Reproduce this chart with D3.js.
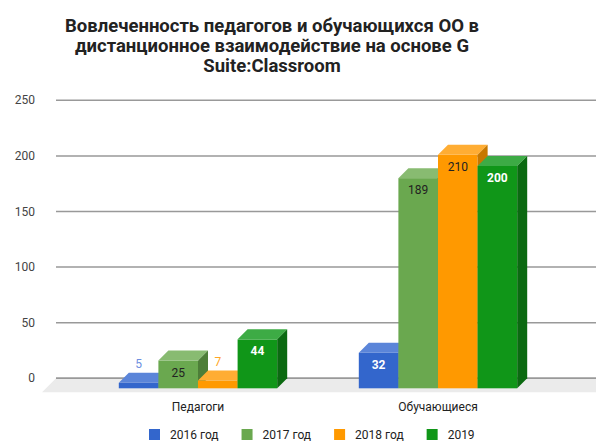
<!DOCTYPE html>
<html>
<head>
<meta charset="utf-8">
<script src="https://cdn.jsdelivr.net/npm/d3@7"></script>
<style>
  body { margin: 0; background: #fff; }
  svg { font-family: Roboto, "Noto Sans", sans-serif; }
</style>
</head>
<body>
<svg id="chart" width="596" height="442"></svg>
<script>
const titleLines = ["Вовлеченность педагогов и обучающихся ОО в", "дистанционное взаимодействие на основе G", "Suite:Classroom"];
const categories = ["Педагоги", "Обучающиеся"];
const series = ["2016 год", "2017 год", "2018 год", "2019"];
const values2016 = [5, 32];
const values2017 = [25, 189];
const values2018 = [7, 210];
const values2019 = [44, 200];
const yTicks = [0, 50, 100, 150, 200, 250];

const front = ["#3366cc", "#6aa84f", "#ff9900", "#109618"];
const topCol = ["#5b85d9", "#88bb71", "#ffad33", "#3dab45"];
const sideCol = ["#2a53a6", "#4d7e38", "#c77800", "#0b6a11"];
const labelIn = ["#fff", "#222", "#222", "#fff"];
const labelOut = ["#6d8fe0", "#6aa84f", "#ffa626", "#109618"];

const svg = d3.select("#chart");
const depth = 10;

const allValues = [values2016, values2017, values2018, values2019];

// title
svg.append("text")
    .attr("x", 272)
    .attr("text-anchor", "middle")
    .attr("font-size", "18.5px")
    .attr("font-weight", "bold")
    .attr("fill", "#222")
    .selectAll("tspan")
    .data(titleLines)
    .enter()
    .append("tspan")
    .attr("x", 272)
    .attr("y", (d, i) => 31.5 + i * 20)
    .text(d => d);

// scales (front plane)
const y = d3.scaleLinear().domain([0, 250]).range([388.3, 110.3]);
const x0 = d3.scaleBand().domain(categories).range([78, 558]).paddingInner(0.34).paddingOuter(0.17);
const x1 = d3.scaleBand().domain(series).range([0, x0.bandwidth()]);

// gridlines on the back wall
const grid = svg.append("g");
grid.selectAll("line")
    .data(yTicks)
    .enter()
    .append("line")
    .attr("x1", 56)
    .attr("x2", 596)
    .attr("y1", d => y(d) - depth)
    .attr("y2", d => y(d) - depth)
    .attr("stroke", "#999")
    .attr("stroke-width", 1.5);

// y axis labels
svg.append("g")
    .selectAll("text")
    .data(yTicks)
    .enter()
    .append("text")
    .attr("x", 35)
    .attr("y", d => y(d) - depth + 4)
    .attr("text-anchor", "end")
    .attr("font-size", "12px")
    .attr("fill", "#444")
    .text(d => d);

// floor
const fy = y(0) - depth;
svg.append("path")
    .attr("d", `M56,${fy} L610,${fy} L596,${fy + 14} L42,${fy + 14} Z`)
    .attr("fill", "#ebebeb");
svg.append("line")
    .attr("x1", 56).attr("x2", 596)
    .attr("y1", fy).attr("y2", fy)
    .attr("stroke", "#999").attr("stroke-width", 1.5);

// bars
const bars = svg.append("g");
categories.forEach((cat, ci) => {
    series.forEach((s, si) => {
        const v = allValues[si][ci];
        const bx = x0(cat) + x1(s);
        const bw = x1.bandwidth();
        const by = y(v);
        const b0 = y(0);
        const g = bars.append("g");
        g.append("rect")
            .attr("x", bx).attr("y", by)
            .attr("width", bw).attr("height", b0 - by)
            .attr("fill", front[si]);
        g.append("path")
            .attr("d", `M${bx},${by} L${bx + depth},${by - depth} L${bx + bw + depth},${by - depth} L${bx + bw},${by} Z`)
            .attr("fill", topCol[si]);
        g.append("path")
            .attr("d", `M${bx + bw},${by} L${bx + bw + depth},${by - depth} L${bx + bw + depth},${b0 - depth} L${bx + bw},${b0} Z`)
            .attr("fill", sideCol[si]);
    });
});

// data labels
categories.forEach((cat, ci) => {
    series.forEach((s, si) => {
        const v = allValues[si][ci];
        const cx = x0(cat) + x1(s) + x1.bandwidth() / 2;
        const h = y(0) - y(v);
        const inside = h > 20;
        svg.append("text")
            .attr("x", cx)
            .attr("y", inside ? y(v) + 16 : y(v) - depth - 5)
            .attr("text-anchor", "middle")
            .attr("font-size", "12px")
            .attr("font-weight", inside && labelIn[si] === "#fff" ? "bold" : "normal")
            .attr("fill", inside ? labelIn[si] : labelOut[si])
            .text(v);
    });
});

// category labels
svg.append("g")
    .selectAll("text")
    .data(categories)
    .enter()
    .append("text")
    .attr("x", d => x0(d) + x0.bandwidth() / 2)
    .attr("y", 411)
    .attr("text-anchor", "middle")
    .attr("font-size", "12px")
    .attr("fill", "#222")
    .text(d => d);

// legend
const legend = svg.append("g");
let lx = 149;
series.forEach((s, i) => {
    legend.append("rect")
        .attr("x", lx).attr("y", 429)
        .attr("width", 11).attr("height", 11)
        .attr("fill", front[i]);
    const t = legend.append("text")
        .attr("x", lx + 21)
        .attr("y", 438.5)
        .attr("font-size", "12px")
        .attr("fill", "#222")
        .text(s);
    lx += 21 + t.node().getComputedTextLength() + 23;
});
</script>
</body>
</html>
